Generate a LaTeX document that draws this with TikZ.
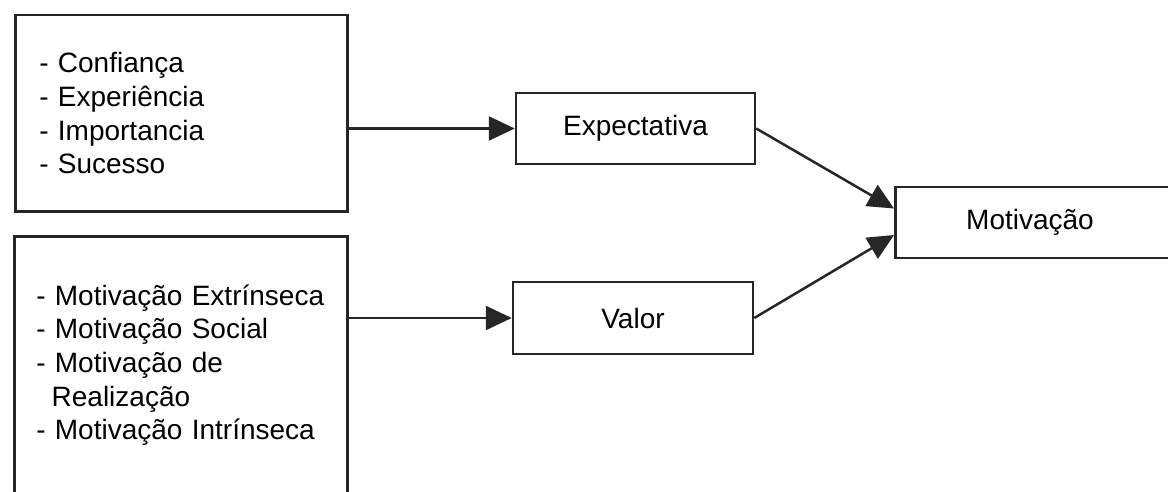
\documentclass[tikz,border=0pt]{standalone}
\usepackage{fontspec}
\setmainfont{Liberation Sans}
\usetikzlibrary{arrows.meta}
\begin{document}
\begin{tikzpicture}[x=1pt,y=-1pt,
  frame/.style={draw=black!85, line width=2.5pt, rectangle, inner sep=0pt,
    font=\fontsize{28}{33.7}\selectfont},
  listbox/.style={frame, align=left, anchor=north west},
  link/.style={draw=black!85, line width=2.5pt,
    -{Triangle[length=26pt,width=24pt]}}
]
\useasboundingbox (0,0) rectangle (1168,492);
\clip (0,0) rectangle (1168,492);
\fill[white] (0,0) rectangle (1168,492);

% input lists
\node[listbox, minimum width=332pt, minimum height=196pt,
      text width=284pt, inner xsep=24pt] (conf) at (14,14)
  {- Confiança\\- Experiência\\- Importancia\\- Sucesso};
\node[listbox, minimum width=333pt, minimum height=258pt,
      text width=289pt, inner xsep=22pt] (motl) at (13,235)
  {- Motivação Extrínseca\\- Motivação Social\\- Motivação de\\\hspace*{0.55em}Realização\\- Motivação Intrínseca};

% intermediate factors
\node[frame, minimum width=239pt, minimum height=71pt] (exp) at (635.5,128.5) {Expectativa};
\node[frame, minimum width=240pt, minimum height=72pt] (val) at (633,318) {Valor};

% outcome
\node[frame, minimum width=276pt, minimum height=71pt, anchor=west] (mot) at (894,222.5) {};
\node[font=\fontsize{28}{33.7}\selectfont] (motl2) at (1030,222.5) {Motivação};

\coordinate (mtop) at ([yshift=14pt]mot.west);
\coordinate (mbot) at ([yshift=-12.5pt]mot.west);

% connectors
\draw[link] (exp.west -| conf.east) -- (exp.west);
\draw[link] (val.west -| motl.east) -- (val.west);
\draw[link] (exp.east) -- (mtop);
\draw[link] (val.east) -- (mbot);
\end{tikzpicture}
\end{document}
